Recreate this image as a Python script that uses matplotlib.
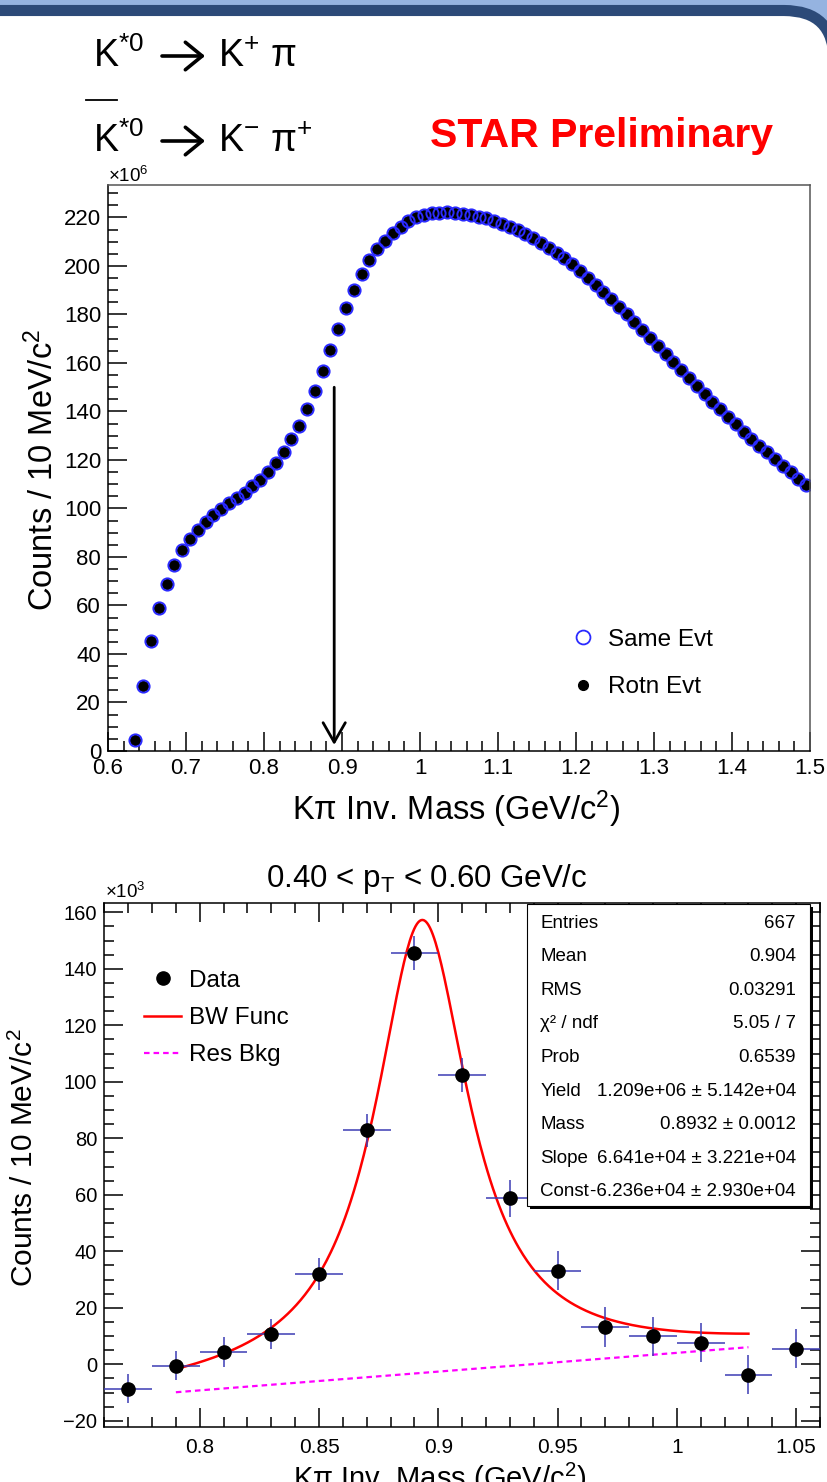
import matplotlib
matplotlib.use("Agg")
import matplotlib.pyplot as plt
import numpy as np
from matplotlib.lines import Line2D
from matplotlib.patches import Rectangle, FancyBboxPatch
from matplotlib.ticker import MultipleLocator, FuncFormatter

plt.rcParams['font.family'] = ['Liberation Sans', 'DejaVu Sans']
plt.rcParams['mathtext.fontset'] = 'custom'
plt.rcParams['mathtext.rm'] = 'Liberation Sans'
plt.rcParams['mathtext.it'] = 'Liberation Sans:italic'
plt.rcParams['mathtext.default'] = 'regular'

# --- top panel: K pi invariant mass, same event and rotated event (x10^6 counts)
mass_top = np.round(np.arange(0.635, 1.5, 0.01), 3)
same_evt = [4.5, 26.8, 45.5, 58.8, 68.9, 76.6, 82.7, 87.6, 91.1, 94.4,
            97.2, 99.8, 102.1, 104.2, 106.5, 109.3, 111.8, 115.2, 118.9, 123.2,
            128.5, 134.0, 141.0, 148.5, 156.8, 165.4, 173.9, 182.5, 190.1, 196.7,
            202.5, 206.9, 210.4, 213.7, 216.2, 218.4, 220.1,
            221.0, 221.7, 222.0, 222.1, 222.0, 221.6, 221.1, 220.4, 219.6, 218.6,
            217.5, 216.2, 214.8, 213.2, 211.5, 209.6, 207.6, 205.4, 203.1, 200.7,
            198.0, 195.2, 192.3, 189.3, 186.2, 183.1, 180.0, 176.8, 173.6, 170.4,
            167.1, 163.8, 160.5, 157.2, 153.9, 150.6, 147.3, 144.1, 140.9, 137.8,
            134.7, 131.7, 128.8, 125.9, 123.1, 120.3, 117.6, 114.9, 112.3, 109.7]
rotn_evt = list(same_evt)  # rotated events sit right on top of the same-event points
arrow_mass = 0.89
arrow_top = 150
arrow_tip = 2.5

# --- bottom panel: 0.40 < pT < 0.60 GeV/c after subtraction (x10^3 counts)
sig_mass = [0.77, 0.79, 0.81, 0.83, 0.85, 0.87, 0.89, 0.91, 0.93, 0.95,
            0.97, 0.99, 1.01, 1.03, 1.05]
sig_counts = [-8.6, -0.5, 4.4, 10.6, 32.0, 82.8, 145.6, 102.4, 58.8, 33.2,
              13.2, 9.9, 7.6, -3.7, 5.5]
sig_err = [5.0, 5.2, 5.2, 5.3, 5.6, 5.8, 5.9, 5.9, 6.6, 6.8,
           7.0, 6.9, 6.9, 6.9, 6.9]
bin_half = 0.01

# fit results from the stats box
stat_names = ["Entries", "Mean", "RMS", "χ² / ndf", "Prob", "Yield", "Mass", "Slope", "Const"]
stat_values = ["667", "0.904", "0.03291", "5.05 / 7", "0.6539",
               "1.209e+06 ± 5.142e+04", "0.8932 ± 0.0012",
               "6.641e+04 ± 3.221e+04", "-6.236e+04 ± 2.930e+04"]
fit_yield = 1.209e6
fit_mass = 0.8932
fit_slope = 6.641e4
fit_const = -6.236e4
fit_width = 0.048  # not printed in the box, taken from the peak height
fit_lo, fit_hi = 0.79, 1.03

W, H = 828, 1482
BLUE = '#2a2aff'
ERRC = '#3c3cb4'


def fig_rect(x0, y0, x1, y1):
    # pixel box (top-left origin) -> figure fraction rect
    return [x0 / W, 1 - y1 / H, (x1 - x0) / W, (y1 - y0) / H]


def num(v, pos):
    return f"{v:g}"


fig = plt.figure(figsize=(W / 100, H / 100), dpi=100)

# slide background: light blue strip, white page with a dark rounded border
bg = fig.add_axes([0, 0, 1, 1], zorder=0)
bg.set_xlim(0, W)
bg.set_ylim(H, 0)
bg.axis('off')
bg.add_patch(Rectangle((0, 0), W, 80, color='#95b3e0', lw=0))
bg.add_patch(FancyBboxPatch((-100, 10.5), 934, 1700,
                            boxstyle='round,pad=0,rounding_size=50',
                            fc='white', ec='#2c4a78', lw=8))

# ---------------- top panel ----------------
ax1 = fig.add_axes(fig_rect(108, 185, 810, 751), zorder=1)
ax1.plot(mass_top, rotn_evt, 'o', color='black', ms=7)
ax1.plot(mass_top, same_evt, 'o', mfc='none', mec=BLUE, mew=1.4, ms=8.8)
ax1.annotate('', xy=(arrow_mass, arrow_tip), xytext=(arrow_mass, arrow_top),
             arrowprops=dict(arrowstyle='->,head_length=0.7,head_width=0.4',
                             mutation_scale=20, lw=2, color='black',
                             shrinkA=0, shrinkB=0))
ax1.set_xlim(0.6, 1.5)
ax1.set_ylim(0, 233.4)
ax1.xaxis.set_major_locator(MultipleLocator(0.1))
ax1.xaxis.set_minor_locator(MultipleLocator(0.02))
ax1.yaxis.set_major_locator(MultipleLocator(20))
ax1.yaxis.set_minor_locator(MultipleLocator(5))
ax1.xaxis.set_major_formatter(FuncFormatter(num))
ax1.yaxis.set_major_formatter(FuncFormatter(num))
ax1.tick_params(which='both', direction='in', top=False, right=False, width=1.1)
ax1.tick_params(which='major', length=14, labelsize=16, pad=5)
ax1.tick_params(which='minor', length=7)
for s in ax1.spines.values():
    s.set_linewidth(1.1)
ax1.spines['top'].set_color('#555555')
ax1.spines['right'].set_color('#555555')

h_same = Line2D([], [], ls='', marker='o', mfc='none', mec=BLUE, mew=1.3, ms=10)
h_rotn = Line2D([], [], ls='', marker='o', color='black', ms=7)
ax1.legend([h_same, h_rotn], ['Same Evt', 'Rotn Evt'], frameon=False,
           loc='upper left', bbox_to_anchor=(0.66, 0.216), fontsize=17.5,
           handlelength=1.0, handletextpad=0.5, labelspacing=1.05,
           borderpad=0, borderaxespad=0)

# ---------------- bottom panel ----------------
ax2 = fig.add_axes(fig_rect(104.3, 903.3, 820, 1427), zorder=1)
ax2.errorbar(sig_mass, sig_counts, yerr=sig_err, xerr=bin_half, fmt='o',
             color='black', ms=9.5, ecolor=ERRC, elinewidth=1.1, capsize=0, zorder=3)
m = np.linspace(fit_lo, fit_hi, 400)
bkg = (fit_slope * m + fit_const) / 1e3
bw = fit_yield * 0.01 / (2 * np.pi) * fit_width / ((m - fit_mass) ** 2 + fit_width ** 2 / 4) / 1e3
ax2.plot(m, bw + bkg, color='#ff0000', lw=1.8, zorder=2)
ax2.plot(m, bkg, color='#ff00ff', lw=1.6, ls=(0, (2.5, 1.8)), zorder=2)
ax2.set_xlim(0.76, 1.06)
ax2.set_ylim(-22.2, 163.2)
ax2.xaxis.set_major_locator(MultipleLocator(0.05))
ax2.xaxis.set_minor_locator(MultipleLocator(0.01))
ax2.yaxis.set_major_locator(MultipleLocator(20))
ax2.yaxis.set_minor_locator(MultipleLocator(5))
ax2.xaxis.set_major_formatter(FuncFormatter(num))
ax2.tick_params(which='both', direction='in', top=True, right=True, width=1.1)
ax2.tick_params(which='major', length=14, labelsize=14.5)
ax2.tick_params(axis='x', which='major', pad=8, labelsize=15)
ax2.tick_params(axis='y', which='major', pad=5)
ax2.tick_params(which='minor', length=7)
for s in ax2.spines.values():
    s.set_linewidth(1.1)

h_data = Line2D([], [], ls='', marker='o', color='black', ms=9.5)
h_bw = Line2D([], [], color='#ff0000', lw=1.8)
h_bkg = Line2D([], [], color='#ff00ff', lw=1.6, ls=(0, (2.5, 1.8)))
ax2.legend([h_data, h_bw, h_bkg], ['Data', 'BW Func', 'Res Bkg'], frameon=False,
           loc='upper left', bbox_to_anchor=(0.056, 0.873), fontsize=17.5,
           handlelength=1.5, handletextpad=0.35, labelspacing=0.63,
           borderpad=0, borderaxespad=0)

# ---------------- overlay: texts, stats box ----------------
ov = fig.add_axes([0, 0, 1, 1], zorder=5)
ov.set_xlim(0, W)
ov.set_ylim(H, 0)
ov.axis('off')

# decay channels, each with a bold arrow between the pieces
ov.text(93, 67, r"K$^{*0}$", fontsize=27, ha='left', va='baseline')
ov.text(218, 67, r"K$^{+}$ π", fontsize=27, ha='left', va='baseline')
ov.text(93, 152, r"K$^{*0}$", fontsize=27, ha='left', va='baseline')
ov.text(218, 152, r"K$^{-}$ π$^{+}$", fontsize=27, ha='left', va='baseline')
for ya in (56, 141):
    ov.annotate('', xy=(205, ya), xytext=(162, ya),
                arrowprops=dict(arrowstyle='->,head_length=0.55,head_width=0.45',
                                mutation_scale=22, lw=2.6, color='black',
                                shrinkA=0, shrinkB=0))
ov.plot([86, 117], [100, 100], color='black', lw=1.3)
ov.text(430, 147, "STAR Preliminary", fontsize=29.5, fontweight='bold', color='#ff0000',
        ha='left', va='baseline')

ov.text(108, 182, r"×10$^{6}$", fontsize=13.5, ha='left', va='baseline')
ov.text(456, 820, r"Kπ Inv. Mass (GeV/c$^{2}$)", fontsize=23.5, ha='center', va='baseline')
ov.text(53, 470, r"Counts / 10 MeV/c$^{2}$", fontsize=23.5, rotation=90,
        rotation_mode='anchor', ha='center', va='baseline')

ov.text(427, 887, r"0.40 < p$_{T}$ < 0.60 GeV/c", fontsize=22.5, ha='center', va='baseline')
ov.text(105, 898, r"×10$^{3}$", fontsize=13.5, ha='left', va='baseline')
ov.text(33, 1158, r"Counts / 10 MeV/c$^{2}$", fontsize=21.5, rotation=90,
        rotation_mode='anchor', ha='center', va='baseline')
ov.text(440, 1488, r"Kπ Inv. Mass (GeV/c$^{2}$)", fontsize=21, ha='center', va='baseline')

# stats box with its shadow
bx0, by0, bx1, by1 = 527, 904, 810, 1206
ov.add_patch(Rectangle((bx0 + 3, by0 + 3), bx1 - bx0, by1 - by0, fc='black', ec='none'))
ov.add_patch(Rectangle((bx0, by0), bx1 - bx0, by1 - by0, fc='white', ec='black', lw=0.8))
row_y = np.linspace(923, 1192, len(stat_names))
for name, val, yy in zip(stat_names, stat_values, row_y):
    ov.text(540.5, yy, name, fontsize=13.5, ha='left', va='center')
    ov.text(796, yy, val, fontsize=13.5, ha='right', va='center')

fig.savefig('out.png', dpi=100)
